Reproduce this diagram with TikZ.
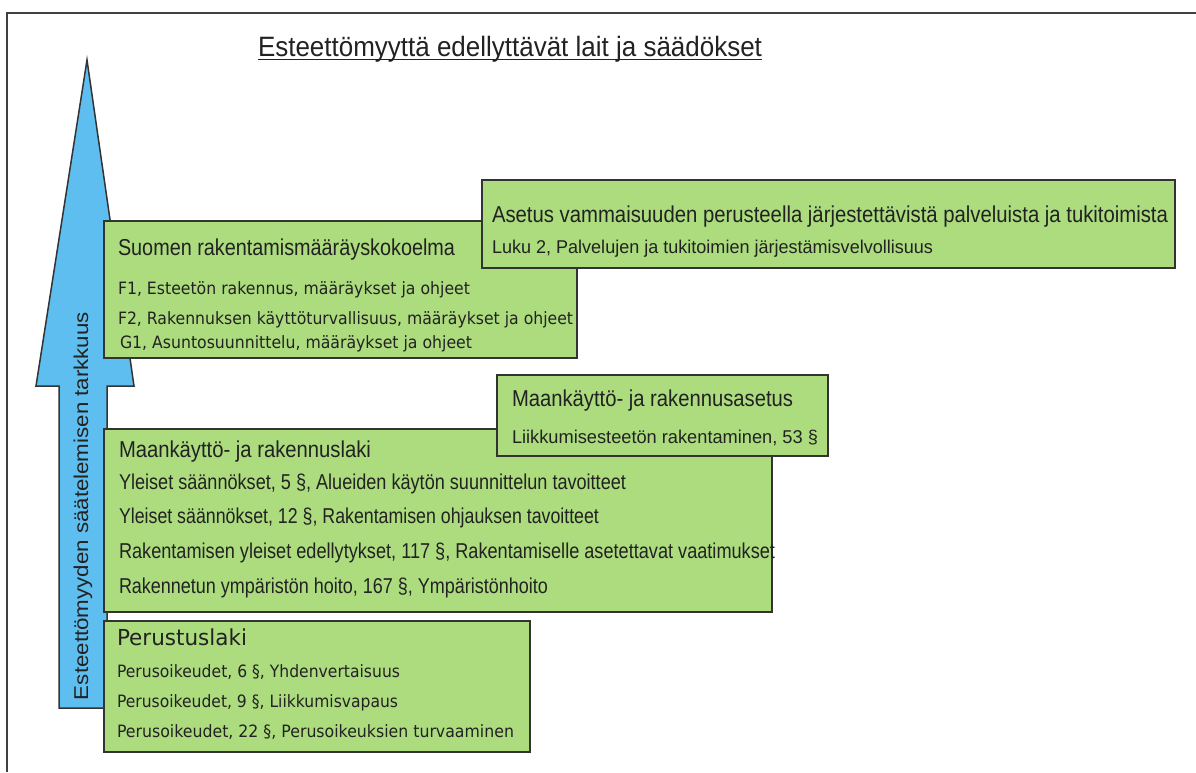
\documentclass[tikz,border=0pt]{standalone}
\usepackage{fontspec}
\usepackage{graphicx}
\setmainfont{Liberation Sans}
\newfontfamily\condf[FakeStretch=0.85]{Liberation Sans}
\newfontfamily\widef{DejaVu Sans}
\newcommand\fitw[2]{\resizebox{#1}{\height}{#2}}
\definecolor{boxgreen}{RGB}{172,220,126}
\definecolor{boxline}{RGB}{51,51,51}
\definecolor{arrowblue}{RGB}{94,190,240}
\definecolor{txtcol}{RGB}{34,34,34}
\definecolor{framecol}{RGB}{64,64,64}
\tikzset{
  lawbox/.style={draw=boxline, fill=boxgreen, line width=1.5pt, inner sep=0pt, outer sep=0pt, anchor=north west},
  txt/.style={anchor=base west, inner sep=0pt, outer sep=0pt, text=txtcol},
  head/.style={txt, font=\condf\fontsize{23}{27}\selectfont},
  mrlitem/.style={txt, font=\condf\fontsize{21.5}{25}\selectfont},
  subitem/.style={txt, font=\condf\fontsize{18.5}{22}\selectfont},
  wideitem/.style={txt, font=\widef\fontsize{17}{20}\selectfont},
}
\begin{document}
\begin{tikzpicture}[x=1pt, y=-1pt]
\useasboundingbox (0,0) rectangle (1196,772);
% frame (top and left edges visible)
\draw[framecol, line width=2pt] (7,772) -- (7,13) -- (1196,13);
% title
\node[txt, font=\condf\fontsize{28}{32}\selectfont] (title) at (258,56)
  {\fitw{504pt}{Esteettömyyttä edellyttävät lait ja säädökset}};
\draw[txtcol, line width=1.2pt] ([yshift=-3.5pt]title.base west) -- ([yshift=-3.5pt]title.base east);
% arrow
\draw[draw=boxline, fill=arrowblue, line width=1.5pt, line join=miter]
  (87,60) -- (134,386) -- (107,386) -- (107,708) -- (59,708) -- (59,386) -- (36,386) -- cycle;
\node[inner sep=0pt, text=txtcol, rotate=90, font=\condf\fontsize{20}{24}\selectfont] (vlabel) at (83,506)
  {\fitw{388pt}{Esteettömyyden säätelemisen tarkkuus}};
% Perustuslaki
\node[lawbox, minimum width=426pt, minimum height=131pt] (perus) at (104,621) {};
\node[txt, font=\widef\fontsize{22}{26}\selectfont] (perust) at (117,645) {\fitw{130pt}{Perustuslaki}};
\node[wideitem] (perus1) at (117,677) {\fitw{283pt}{Perusoikeudet, 6 §, Yhdenvertaisuus}};
\node[wideitem] (perus2) at (117,707) {\fitw{281pt}{Perusoikeudet, 9 §, Liikkumisvapaus}};
\node[wideitem] (perus3) at (117,737) {\fitw{397pt}{Perusoikeudet, 22 §, Perusoikeuksien turvaaminen}};
% Maankäyttö- ja rakennuslaki
\node[lawbox, minimum width=668pt, minimum height=183pt] (mrl) at (104,429) {};
\node[head] (mrlt) at (119,457) {\fitw{252pt}{Maankäyttö- ja rakennuslaki}};
\node[mrlitem] (mrl1) at (119,489) {\fitw{507pt}{Yleiset säännökset, 5 §, Alueiden käytön suunnittelun tavoitteet}};
\node[mrlitem] (mrl2) at (119,523) {\fitw{480pt}{Yleiset säännökset, 12 §, Rakentamisen ohjauksen tavoitteet}};
\node[mrlitem] (mrl3) at (119,558) {\fitw{656pt}{Rakentamisen yleiset edellytykset, 117 §, Rakentamiselle asetettavat vaatimukset}};
\node[mrlitem] (mrl4) at (119,593) {\fitw{429pt}{Rakennetun ympäristön hoito, 167 §, Ympäristönhoito}};
% Maankäyttö- ja rakennusasetus
\node[lawbox, minimum width=331pt, minimum height=81pt] (mra) at (497,375) {};
\node[head] (mrat) at (512,406) {\fitw{281pt}{Maankäyttö- ja rakennusasetus}};
\node[subitem] (mra1) at (512,443) {\fitw{306pt}{Liikkumisesteetön rakentaminen, 53 §}};
% Suomen rakentamismääräyskokoelma
\node[lawbox, minimum width=473pt, minimum height=137pt] (srmk) at (104,221) {};
\node[head] (srmkt) at (118,255) {\fitw{337pt}{Suomen rakentamismääräyskokoelma}};
\node[wideitem] (srmk1) at (118,294) {\fitw{352pt}{F1, Esteetön rakennus, määräykset ja ohjeet}};
\node[wideitem] (srmk2) at (118,324) {\fitw{455pt}{F2, Rakennuksen käyttöturvallisuus, määräykset ja ohjeet}};
\node[wideitem] (srmk3) at (120,348) {\fitw{352pt}{G1, Asuntosuunnittelu, määräykset ja ohjeet}};
% Asetus vammaisuuden perusteella ...
\node[lawbox, minimum width=693pt, minimum height=88pt] (asetus) at (482,180) {};
\node[head] (asetust) at (492,222) {\fitw{676pt}{Asetus vammaisuuden perusteella järjestettävistä palveluista ja tukitoimista}};
\node[subitem] (asetus1) at (492,253) {\fitw{441pt}{Luku 2, Palvelujen ja tukitoimien järjestämisvelvollisuus}};
\end{tikzpicture}
\end{document}
